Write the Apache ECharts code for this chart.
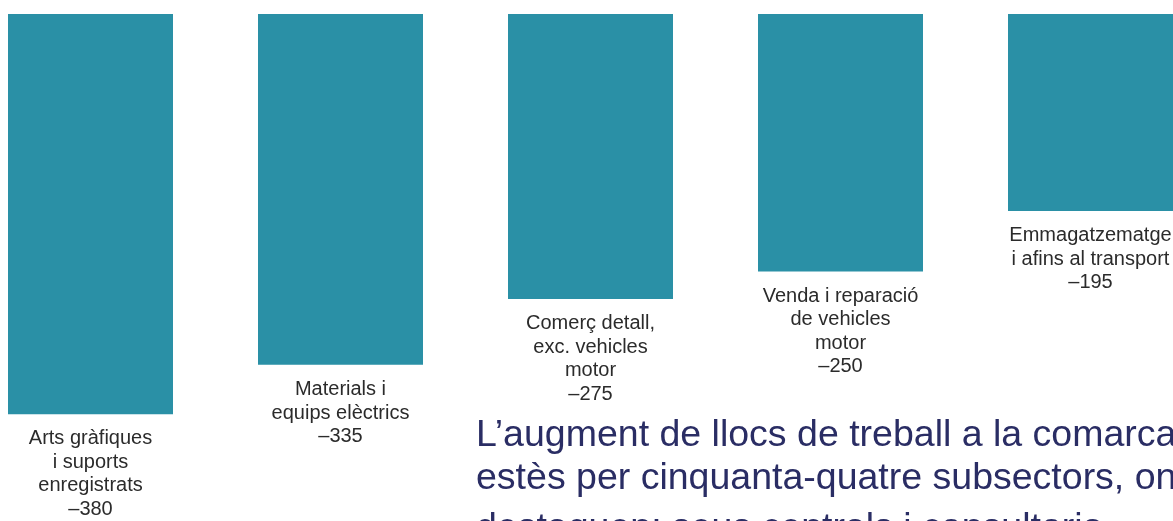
<!DOCTYPE html>
<html>
<head>
<meta charset="utf-8">
<script src="https://cdn.jsdelivr.net/npm/echarts@6/dist/echarts.min.js"></script>
<style>
html,body{margin:0;padding:0;background:#fff;}
#chart{width:1173px;height:521px;}
</style>
</head>
<body>
<div id="chart"></div>
<script>
const categories = [
  'Arts gràfiques\ni suports\nenregistrats',
  'Materials i\nequips elèctrics',
  'Comerç detall,\nexc. vehicles\nmotor',
  'Venda i reparació\nde vehicles\nmotor',
  'Emmagatzematge\ni afins al transport'
];
const values = [-380, -335, -275, -250, -195];
const titleLines = [
  'L\u2019augment de llocs de treball a la comarca',
  'estès per cinquanta-quatre subsectors, on',
  'destaquen: seus centrals i consultoria'
];
const titleTops = [414, 457, 507];

const chart = echarts.init(document.getElementById('chart'), null, {renderer:'canvas'});
chart.setOption({
  animation: false,
  backgroundColor: '#ffffff',
  grid: { left: -34.5, width: 1250, top: 14, height: 477, outerBoundsMode: 'none', containLabel: false },
  xAxis: {
    type: 'category',
    data: categories,
    show: false
  },
  yAxis: {
    type: 'value',
    min: -450,
    max: -15.5,
    show: false
  },
  series: [{
    type: 'bar',
    data: values,
    barWidth: 165,
    clip: true,
    itemStyle: { color: '#2a90a6' },
    label: {
      show: true,
      position: 'bottom',
      distance: 13,
      color: '#2b2b2b',
      fontFamily: 'Liberation Sans, Arial, sans-serif',
      fontSize: 20,
      lineHeight: 23.5,
      align: 'center',
      formatter: function (p) {
        return categories[p.dataIndex] + '\n\u2013' + Math.abs(p.value);
      }
    }
  }],
  graphic: titleLines.map(function (t, i) {
    return {
      type: 'text',
      left: 476,
      top: titleTops[i],
      style: {
        text: t,
        fill: '#2a2d64',
        font: '37.5px "Liberation Sans", Arial, sans-serif',
        lineHeight: 43
      }
    };
  })
});
</script>
</body>
</html>
